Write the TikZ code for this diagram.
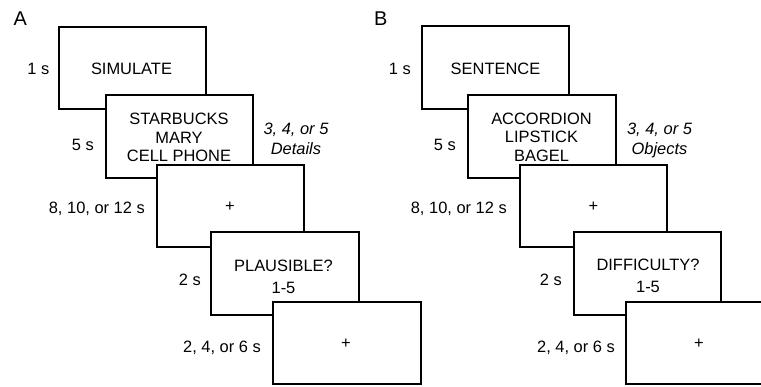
\documentclass[tikz,border=0pt]{standalone}
\usepackage{fontspec}
\setmainfont{Liberation Sans}
\begin{document}
\begin{tikzpicture}[x=1bp,y=-1bp,
  frame/.style={draw, fill=white, line width=1.6bp, minimum width=147.5bp, minimum height=82.5bp, inner sep=0pt, outer sep=0pt},
  txt/.style={inner sep=0pt, font=\fontsize{16.5}{18.5}\selectfont, align=center},
  qtxt/.style={txt, font=\fontsize{16.5}{22}\selectfont, anchor=north},
  tlabel/.style={inner sep=0pt, font=\fontsize{16.5}{18.5}\selectfont, anchor=base east},
  panel/.style={inner sep=0pt, font=\fontsize{20}{24}\selectfont, anchor=base west},
  note/.style={inner sep=0pt, align=center, font=\fontsize{16.5}{19.5}\selectfont\itshape, anchor=north}]
\useasboundingbox (0,0) rectangle (761,386);
\clip (0,0) rectangle (761,386);

% ---------- Panel A ----------
\node[panel] (pa) at (13.5,25) {A};
\node[frame] (a1) at (132.5,68) {};
\node[txt, anchor=base] (ta1) at (131.5,74) {SIMULATE};
\node[frame] (a2) at (179.5,136.5) {};
\node[txt, anchor=north] (ta2) at (179,113) {STARBUCKS\\MARY\\CELL PHONE};
\node[frame] (a3) at (230.5,206) {};
\node[txt] (ta3) at (230,206.7) {+};
\node[frame] (a4) at (285,273.5) {};
\node[qtxt] (ta4) at (283.5,259.5) {PLAUSIBLE?\\1-5};
\node[frame] (a5) at (347,343) {};
\node[txt] (ta5) at (346,343.3) {+};

\node[tlabel] (la1) at (49.5,74) {1 s};
\node[tlabel] (la2) at (94,150) {5 s};
\node[tlabel] (la3) at (145,213) {8, 10, or 12 s};
\node[tlabel] (la4) at (201,285) {2 s};
\node[tlabel] (la5) at (261,352) {2, 4, or 6 s};
\node[note] (na) at (296,123) {3, 4, or 5\\Details};

% ---------- Panel B ----------
\node[panel] (pb) at (374,25) {B};
\node[frame] (b1) at (495.5,67.5) {};
\node[txt, anchor=base] (tb1) at (495.5,74) {SENTENCE};
\node[frame] (b2) at (542,136.5) {};
\node[txt, anchor=north] (tb2) at (541.5,112.5) {ACCORDION\\LIPSTICK\\BAGEL};
\node[frame] (b3) at (593.5,206) {};
\node[txt] (tb3) at (593.3,206.7) {+};
\node[frame] (b4) at (647.5,273.5) {};
\node[qtxt] (tb4) at (648,259) {DIFFICULTY?\\1-5};
\node[frame] (b5) at (700,343) {};
\node[txt] (tb5) at (699,343.3) {+};

\node[tlabel] (lb1) at (411,74) {1 s};
\node[tlabel] (lb2) at (456,150) {5 s};
\node[tlabel] (lb3) at (507,213) {8, 10, or 12 s};
\node[tlabel] (lb4) at (562,285) {2 s};
\node[tlabel] (lb5) at (615,352) {2, 4, or 6 s};
\node[note] (nb) at (659.5,123) {3, 4, or 5\\Objects};
\end{tikzpicture}
\end{document}
